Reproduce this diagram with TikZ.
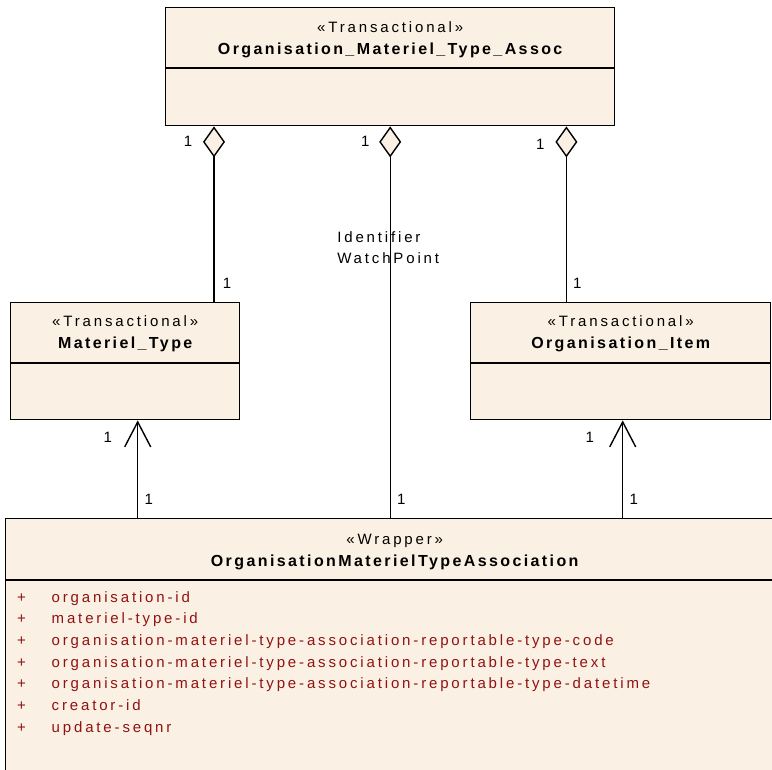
\documentclass[tikz,border=0pt]{standalone}
\usepackage{fontspec}
\setmainfont{Liberation Sans}
\newfontfamily\umlfont{Liberation Sans}[LetterSpace=19]
\newfontfamily\umlboldfont{Liberation Sans}[LetterSpace=15]
\usetikzlibrary{positioning,arrows.meta}
\definecolor{umlfill}{RGB}{250,240,227}
\definecolor{attrred}{RGB}{145,18,18}
\newcommand{\umlattr}[1]{\makebox[34.5pt][l]{+}#1}

\begin{document}
\begin{tikzpicture}[
  x=1pt, y=-1pt, line width=1.4pt,
  font=\umlfont\fontsize{15}{21}\selectfont,
  cls/.style={draw, fill=umlfill, inner sep=0pt, anchor=north west},
  stereo/.style={inner sep=0pt, anchor=base},
  clsname/.style={inner sep=0pt, anchor=base, font=\umlboldfont\bfseries\fontsize{16}{18}\selectfont},
  attr/.style={inner sep=0pt, anchor=base west, text=attrred},
  lbl/.style={inner sep=0pt},
  agg/.style={{Diamond[fill=umlfill, length=31pt, width=22pt]}-},
  nav/.style={-{Straight Barb[length=25pt, width=26pt]}}]
\useasboundingbox (0,0) rectangle (772,770);
% classes
\node[cls, minimum width=449pt, minimum height=118pt] (assoc) at (165,7) {};
\node[cls, minimum width=229pt, minimum height=117pt] (mattype) at (10,302) {};
\node[cls, minimum width=300pt, minimum height=117pt] (orgitem) at (470,302) {};
\node[cls, minimum width=778pt, minimum height=300pt] (wrapper) at (5,518) {};
\node[stereo] (assoc-st) at ([yshift=-25.5pt]assoc.north) {«Transactional»};
\node[clsname] (assoc-nm) at ([yshift=-47.5pt]assoc.north) {Organisation\_Materiel\_Type\_Assoc};
\node[stereo] (mattype-st) at ([yshift=-25pt]mattype.north) {«Transactional»};
\node[clsname] (mattype-nm) at ([yshift=-47pt]mattype.north) {Materiel\_Type};
\node[stereo] (orgitem-st) at ([yshift=-25pt]orgitem.north) {«Transactional»};
\node[clsname] (orgitem-nm) at ([yshift=-47pt]orgitem.north) {Organisation\_Item};
\node[stereo] (wrapper-st) at ([yshift=-26pt]wrapper.north) {«Wrapper»};
\node[clsname] (wrapper-nm) at ([yshift=-48pt]wrapper.north) {OrganisationMaterielTypeAssociation};
\draw ([yshift=-61pt]assoc.north west) -- ([yshift=-61pt]assoc.north east);
\draw ([yshift=-61pt]mattype.north west) -- ([yshift=-61pt]mattype.north east);
\draw ([yshift=-61pt]orgitem.north west) -- ([yshift=-61pt]orgitem.north east);
\draw ([yshift=-62pt]wrapper.north west) -- ([yshift=-62pt]wrapper.north east);
% attributes
\node[attr] (a1) at (16.5,602) {\umlattr{organisation-id}};
\node[attr] (a2) at (16.5,623.7) {\umlattr{materiel-type-id}};
\node[attr] (a3) at (16.5,645.4) {\umlattr{organisation-materiel-type-association-reportable-type-code}};
\node[attr] (a4) at (16.5,667.1) {\umlattr{organisation-materiel-type-association-reportable-type-text}};
\node[attr] (a5) at (16.5,688.8) {\umlattr{organisation-materiel-type-association-reportable-type-datetime}};
\node[attr] (a6) at (16.5,710.5) {\umlattr{creator-id}};
\node[attr] (a7) at (16.5,732.2) {\umlattr{update-seqnr}};
% connectors
\coordinate (d1) at ([xshift=49pt]assoc.south west);
\coordinate (d3) at ([xshift=-49pt]assoc.south east);
\coordinate (n1) at ([xshift=12.5pt]mattype.south);
\coordinate (n2) at ([xshift=2pt]orgitem.south);
\draw[agg] (d1) -- (d1 |- mattype.north)
  node[lbl, pos=0.085, xshift=-26pt] (d1-a) {1}
  node[lbl, pos=0.893, xshift=13pt] (d1-b) {1};
\draw[agg] (assoc.south) -- (assoc.south |- wrapper.north)
  node[lbl, pos=0.038, xshift=-25pt] (d2-a) {1}
  node[lbl, pos=0.309, xshift=-2pt, align=left] (watch) {Identifier\\WatchPoint}
  node[lbl, pos=0.952, xshift=11pt] (d2-b) {1};
\draw[agg] (d3) -- (d3 |- orgitem.north)
  node[lbl, pos=0.10, xshift=-26pt] (d3-a) {1}
  node[lbl, pos=0.893, xshift=11pt] (d3-b) {1};
\draw[nav] (n1 |- wrapper.north) -- (n1)
  node[lbl, pos=0.19, xshift=11pt] (n1-a) {1}
  node[lbl, pos=0.83, xshift=-30pt] (n1-b) {1};
\draw[nav] (n2 |- wrapper.north) -- (n2)
  node[lbl, pos=0.19, xshift=11pt] (n2-a) {1}
  node[lbl, pos=0.83, xshift=-33pt] (n2-b) {1};
\end{tikzpicture}
\end{document}
